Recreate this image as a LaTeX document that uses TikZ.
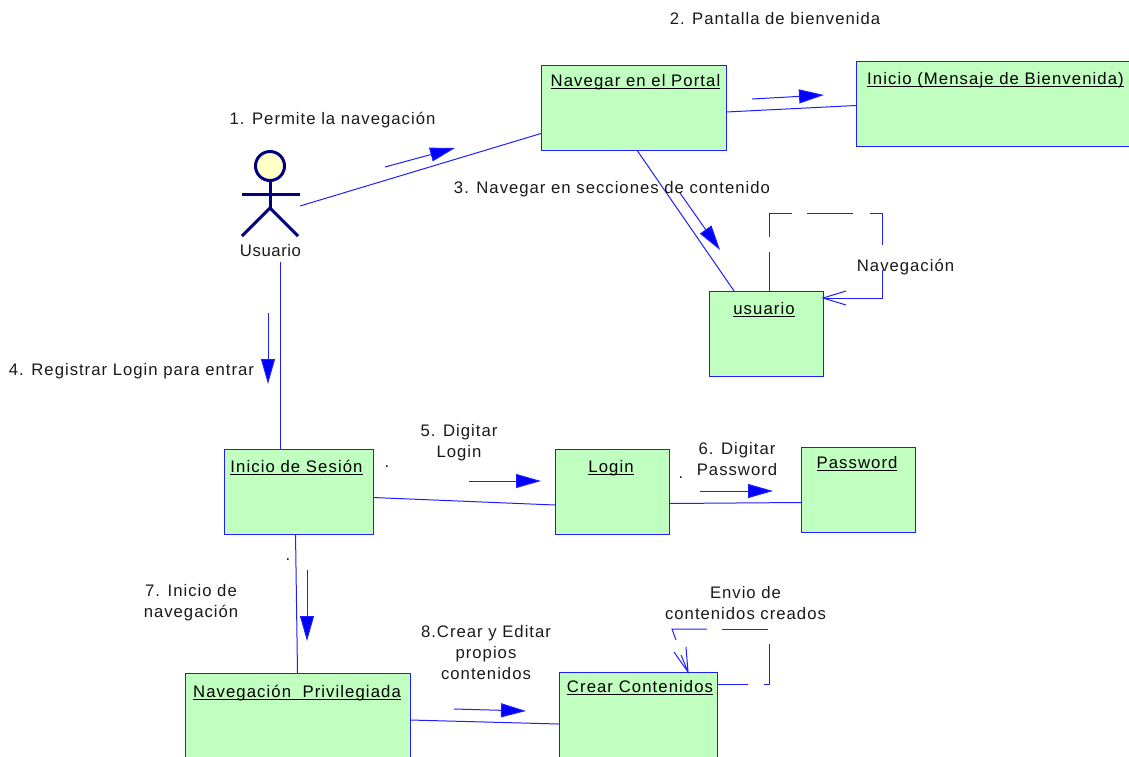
\documentclass[tikz,border=0pt]{standalone}
\usepackage{fontspec}
\setmainfont{Liberation Sans}[LetterSpace=3.5]
\newfontfamily\labf{Liberation Sans}[LetterSpace=6]
\newfontfamily\titf{Liberation Sans}[LetterSpace=6.5]
\usetikzlibrary{arrows.meta,calc}
\definecolor{bl}{RGB}{30,30,255}
\definecolor{boxfill}{RGB}{192,255,192}
\definecolor{actorc}{RGB}{0,0,128}
\definecolor{headc}{RGB}{255,255,200}
\tikzset{
 x=1pt,y=-1pt,
 objbox/.style={draw=bl,fill=boxfill,line width=0.95pt,minimum width=#1,minimum height=85pt,inner sep=0pt,outer sep=0pt},
 title/.style={font=\titf\fontsize{16.7}{18}\selectfont,anchor=base,inner sep=0pt,text=black},
 lab/.style={font=\labf\fontsize{16.7}{21}\selectfont,align=center,inner sep=0pt,text=black!90},
 actlab/.style={font=\fontsize{16.7}{21}\selectfont,inner sep=0pt,text=black!90},
 link/.style={draw=bl,line width=1pt},
 msg/.style={draw=bl,line width=1pt,-{Triangle[length=25pt,width=14pt,fill=blue]}},
 stick/.style={draw=actorc,line width=3pt}
}
\newcommand{\ul}[1]{\setbox0\hbox{#1}\rlap{\rule[-3pt]{\wd0}{1.4pt}}\box0}
\begin{document}
\begin{tikzpicture}
\useasboundingbox (0,0) rectangle (1129,756);
% boxes
\node[objbox=185pt] (nav) at (633.5,108) {};
\node[objbox=274pt] (ini) at (993,103.5) {};
\node[objbox=114pt] (usu) at (766,333.5) {};
\node[objbox=149pt] (ses) at (298.5,491.5) {};
\node[objbox=114pt] (log) at (612,491.5) {};
\node[objbox=114pt] (pas) at (858,489.5) {};
\node[objbox=225pt] (pri) at (297.5,715.5) {};
\node[objbox=158pt] (cre) at (638,714.5) {};
% titles
\node[title] (tnav) at (635.5,86) {\ul{Navegar en el Portal}};
\node[title] (tini) at (995.5,84) {\ul{Inicio (Mensaje de Bienvenida)}};
\node[title] (tusu) at (764,314) {\ul{usuario}};
\node[title] (tses) at (296.5,472) {\ul{Inicio de Sesión}};
\node[title] (tlog) at (611,472) {\ul{Login}};
\node[title] (tpas) at (857,468) {\ul{Password}};
\node[title] (tpri) at (297,697) {\ul{Navegación\ \ Privilegiada}};
\node[title] (tcre) at (640,692) {\ul{Crear Contenidos}};
% actor
\node[circle,draw=actorc,fill=headc,line width=3pt,minimum size=29pt,inner sep=0pt] (head) at (270,166) {};
\coordinate (hip) at (270,208);
\coordinate (armL) at (242,194);
\coordinate (armR) at (300,194);
\coordinate (legL) at (242,236);
\coordinate (legR) at (298,236);
\draw[stick] (head.south) -- (hip);
\draw[stick] (armL) -- (armR);
\draw[stick] (legL) -- (hip) -- (legR);
\node[actlab] (act) at (270.5,251) {Usuario};
% links
\coordinate (actR) at (300,206);
\coordinate (actB) at (280.5,262);
\draw[link] (actR) -- ($(nav.south west)!0.2!(nav.north west)$);
\draw[link] ([yshift=-4pt]nav.east) -- ([yshift=-2pt]ini.west);
\draw[link] ($(nav.south west)!0.52!(nav.south east)$) -- ($(usu.north west)!0.22!(usu.north east)$);
\draw[link] (actB) -- (ses.north -| actB);
\draw[link] ([yshift=-6pt]ses.east) -- ([yshift=-13.5pt]log.west);
\draw[link] ([yshift=-12pt]log.east) -- ([yshift=-13pt]pas.west);
\draw[link] ($(ses.south west)!0.48!(ses.south east)$) -- ($(pri.north west)!0.5!(pri.north east)$);
\draw[link] ([yshift=-4.5pt]pri.east) -- ([yshift=-9.5pt]cre.west);
% messages
\coordinate (m1a) at (385,167); \coordinate (m1b) at (455,148);
\draw[msg] (m1a) -- (m1b);
\coordinate (m2a) at (752,99); \coordinate (m2b) at (824,95);
\draw[msg] (m2a) -- (m2b);
\coordinate (m3a) at (680,193); \coordinate (m3b) at (720,250);
\draw[msg] (m3a) -- (m3b);
\coordinate (m4a) at (268,313); \coordinate (m4b) at (268,384);
\draw[msg] (m4a) -- (m4b);
\coordinate (m5a) at (469,481); \coordinate (m5b) at (541,481);
\draw[msg] (m5a) -- (m5b);
\coordinate (m6a) at (700,491); \coordinate (m6b) at (773,491);
\draw[msg] (m6a) -- (m6b);
\coordinate (m7a) at (307,570); \coordinate (m7b) at (307,641);
\draw[msg] (m7a) -- (m7b);
\coordinate (m8a) at (454,709); \coordinate (m8b) at (526,711);
\draw[msg] (m8a) -- (m8b);
% self loop usuario
\coordinate (ua) at (769,252); \coordinate (ub) at (769,237); \coordinate (uc) at (769,213);
\coordinate (ud) at (792,213); \coordinate (ue) at (807,213); \coordinate (uf) at (853,213);
\coordinate (ug) at (870,213); \coordinate (uh) at (882.5,213); \coordinate (ui) at (882.5,245);
\coordinate (uj) at (882.5,270); \coordinate (uk) at (882.5,298); \coordinate (ul) at (858,298);
\coordinate (um) at (846,291); \coordinate (un) at (846,305);
\draw[link] (usu.north -| ua) -- (ua);
\draw[link] (ub) -- (uc) -- (ud);
\draw[link] (ue) -- (uf);
\draw[link] (ug) -- (uh) -- (ui);
\draw[link] (uj) -- (uk) -- (ul);
\draw[link] (ul) -- (usu.east |- ul);
\draw[link] (um) -- (usu.east |- ul) -- (un);
% self loop crear
\coordinate (ca) at (748,684); \coordinate (cb) at (764,684); \coordinate (cc) at (769,684);
\coordinate (cd) at (769,644); \coordinate (ce) at (768,629); \coordinate (cf) at (722,629);
\coordinate (cg) at (707,629); \coordinate (ch) at (672,629); \coordinate (ci) at (676,640);
\coordinate (cj) at (681,655); \coordinate (ck) at (674,652); \coordinate (cl) at (686,647);
\coordinate (cm) at (688,672);
\draw[link] (cre.east |- ca) -- (ca);
\draw[link] (cb) -- (cc) -- (cd);
\draw[link] (ce) -- (cf);
\draw[link] (cg) -- (ch) -- (ci);
\draw[link] (cj) -- (cm);
\draw[link] (ck) -- (cm) -- (cl);
% labels
\node[lab] (l1) at (332.5,120.5) {1. Permite la navegación};
\node[lab] (l2) at (775,19) {2. Pantalla de bienvenida};
\node[lab] (l3) at (612,189) {3. Navegar en secciones de contenido};
\node[lab] (l4) at (131.5,371) {4. Registrar Login para entrar};
\node[lab] (l5) at (459,442.5) {5. Digitar\\Login};
\node[lab] (l6) at (737,459.5) {6. Digitar\\Password};
\node[lab] (l7) at (191,602.5) {7. Inicio de\\navegación};
\node[lab] (l8) at (486,653) {8.Crear y Editar\\propios\\contenidos};
\node[lab] (nv) at (905.5,267.5) {Navegación};
\node[lab] (en) at (745.5,603.5) {Envio de\\contenidos creados};
\node[lab] (d1) at (387,467) {.};
\node[lab] (d2) at (681,478) {.};
\node[lab] (d3) at (288,560) {.};
\end{tikzpicture}
\end{document}
